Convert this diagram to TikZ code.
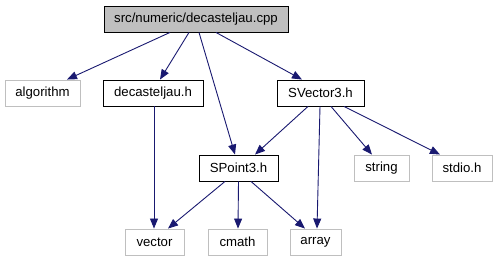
\documentclass[tikz,border=0pt]{standalone}
\usepackage{fontspec}
\setmainfont{Liberation Sans}
\usetikzlibrary{arrows.meta}
\definecolor{edgeblue}{HTML}{191970}
\definecolor{extgray}{HTML}{BFBFBF}
\tikzset{
  box/.style={draw=black, line width=0.9pt, fill=white, inner sep=0pt,
    minimum height=26pt, font=\fontsize{13.2}{15}\selectfont},
  extbox/.style={box, draw=extgray},
  rootbox/.style={box, fill=extgray},
  dep/.style={draw=edgeblue, line width=0.9pt,
    -{Triangle[length=10pt,width=8pt,fill=edgeblue]}}
}
\begin{document}
\begin{tikzpicture}[x=1pt,y=-1pt]
  \useasboundingbox (0,0) rectangle (498,261);
  % files
  \node[rootbox, minimum width=184pt] (root) at (196,19) {src/numeric/decasteljau.cpp};
  \node[extbox, minimum width=75pt] (algorithm) at (42.5,93) {algorithm};
  \node[box, minimum width=100pt] (decast) at (153,93) {decasteljau.h};
  \node[box, minimum width=87pt] (svector) at (320.5,93) {SVector3.h};
  \node[box, minimum width=79pt] (spoint) at (238.5,168) {SPoint3.h};
  \node[extbox, minimum width=55pt] (string) at (381.5,168) {string};
  \node[extbox, minimum width=60pt] (stdio) at (462,168) {stdio.h};
  \node[extbox, minimum width=59pt] (vector) at (154.5,242) {vector};
  \node[extbox, minimum width=59pt] (cmath) at (237.5,242) {cmath};
  \node[extbox, minimum width=51pt] (array) at (315.5,242) {array};
  % include dependencies
  \draw[dep] ([xshift=-26pt]root.south) -- ([xshift=24.5pt]algorithm.north);
  \draw[dep] ([xshift=-7pt]root.south) -- ([xshift=7pt]decast.north);
  \draw[dep] ([xshift=3pt]root.south) -- ([xshift=-3.5pt]spoint.north);
  \draw[dep] ([xshift=20pt]root.south) -- ([xshift=-18.5pt]svector.north);
  \draw[dep] ([xshift=1pt]decast.south) -- ([xshift=-0.5pt]vector.north);
  \draw[dep] ([xshift=-12.5pt]svector.south) -- ([xshift=16.5pt]spoint.north);
  \draw[dep] ([xshift=-0.5pt]svector.south) -- ([xshift=1.5pt]array.north);
  \draw[dep] ([xshift=10.5pt]svector.south) -- ([xshift=-9.5pt]string.north);
  \draw[dep] ([xshift=23.5pt]svector.south) -- ([xshift=-22pt]stdio.north);
  \draw[dep] ([xshift=-13.5pt]spoint.south) -- ([xshift=13.5pt]vector.north);
  \draw[dep] (spoint.south) -- ([xshift=0.5pt]cmath.north);
  \draw[dep] ([xshift=12.5pt]spoint.south) -- ([xshift=-10.5pt]array.north);
\end{tikzpicture}
\end{document}
